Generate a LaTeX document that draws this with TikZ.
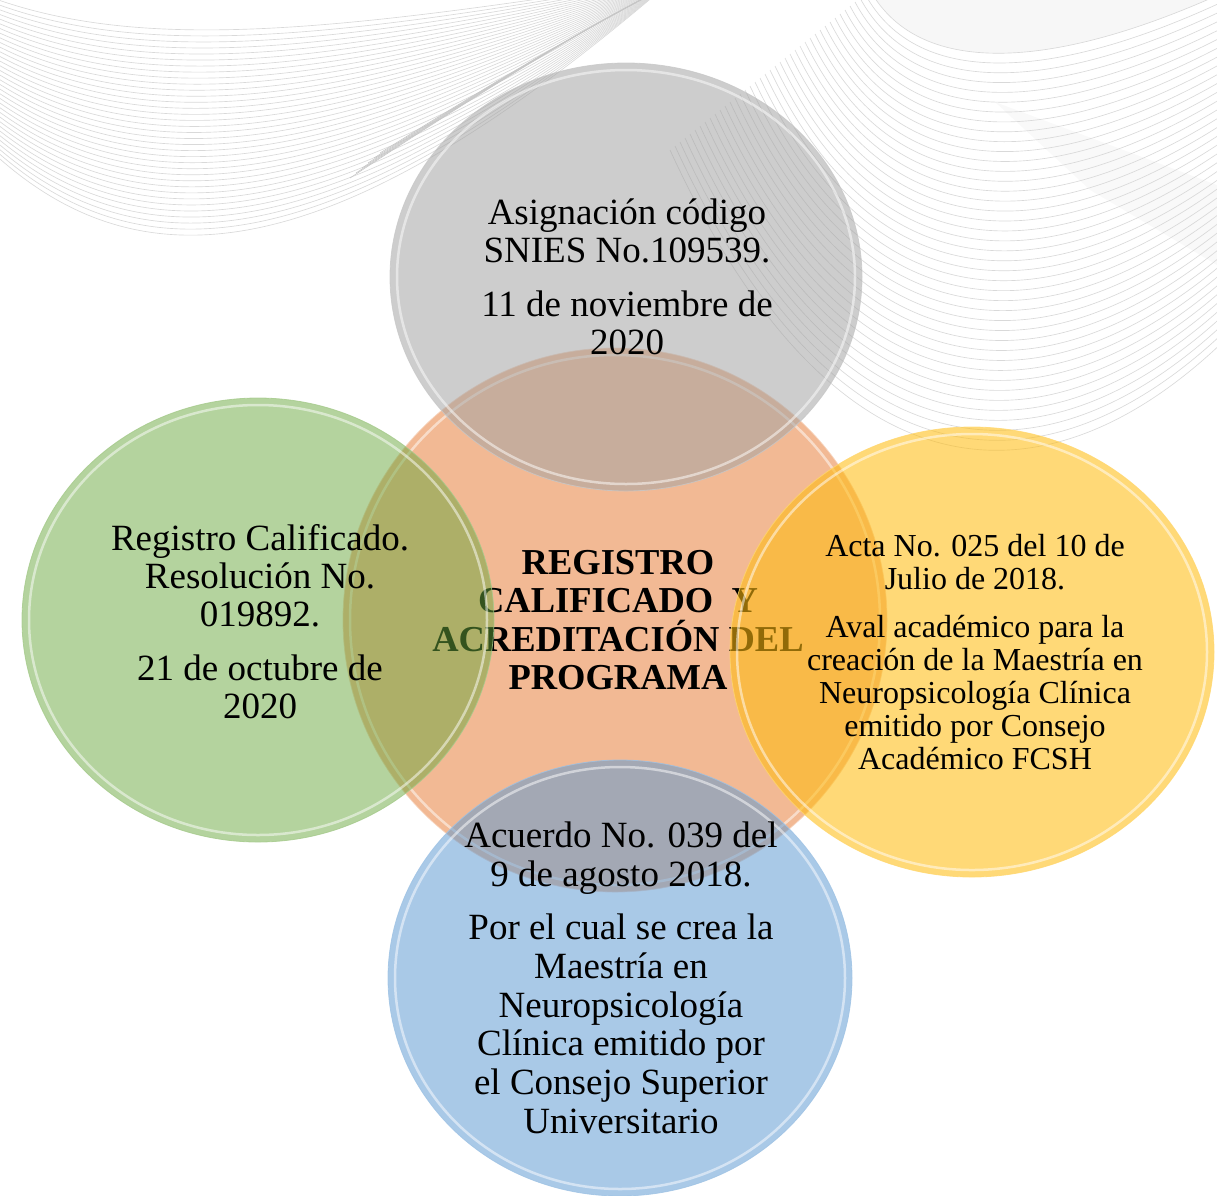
\documentclass[tikz,border=0pt]{standalone}
\usepackage{fontspec}
\setmainfont{Liberation Serif}
\usepackage{tikz}
\usetikzlibrary{shapes.geometric,positioning}

\definecolor{orangeC}{RGB}{242,185,148}
\definecolor{grayC}{RGB}{164,164,164}
\definecolor{greenC}{RGB}{105,167,61}
\definecolor{yellowC}{RGB}{255,188,15}
\definecolor{blueC}{RGB}{93,153,210}

\begin{document}
\begin{tikzpicture}[x=1pt,y=-1pt,
    wave/.style={draw=gray!30,line width=0.65pt},
    fold/.style={draw=gray!45,line width=0.6pt},
    bubble/.style={ellipse,inner sep=0pt,outer sep=0pt,fill=#1,draw=#1!60!white,draw opacity=0.8,line width=0.8pt},
    rim/.style={ellipse,inner sep=0pt,draw=white,draw opacity=0.5,line width=2.5pt},
    txt/.style={align=center,inner sep=0pt,text=black,font=\fontsize{37}{38}\selectfont},
    small/.style={txt,font=\fontsize{32}{33}\selectfont},
    title/.style={txt,font=\bfseries\fontsize{36.5}{38.5}\selectfont}]

    \useasboundingbox (0,0) rectangle (1217,1195);

    % background ribbons
    \begin{scope}
        \clip (0,0) rectangle (1217,1195);
        \fill[gray!6] (870,-10) .. controls (920,80) and (1060,70) .. (1240,-15) -- cycle;
        \fill[gray!5] (995,102) -- (1217,185) -- (1217,265) -- (1090,190) -- cycle;
        \foreach \i in {0,...,34}
            \draw[wave] (-10,{150-4.5*\i}) .. controls (140,{290-7*\i}) and (330,{270-7*\i}) .. (655,{-5-0.4*\i});
        \foreach \i in {0,...,5}
            \draw[fold] ({350+6*\i},{178-5*\i}) .. controls ({450+4*\i},{112-3*\i}) and (560,42) .. (650,-5);
        \foreach \j in {0,...,40}
            \draw[wave] ({870-5*\j},{-10+4*\j}) .. controls ({920-2*\j},{80+11*\j}) and (1060,{70+11*\j}) .. (1240,{-15+8.5*\j});
    \end{scope}

    % centre
    \node[bubble=orangeC,minimum width=544,minimum height=544] (programa) at (615,620) {};
    \node[rim,minimum width=530,minimum height=530] (programa-rim) at (programa) {};
    \node[title] (programa-txt) at (618,620) {REGISTRO\\CALIFICADO\ \ Y\\ACREDITACIÓN DEL\\PROGRAMA};

    % top
    \node[bubble=grayC,fill opacity=0.55,minimum width=472,minimum height=428] (snies) at (626,277) {};
    \node[rim,minimum width=458,minimum height=414] (snies-rim) at (snies) {};
    \node[txt] (snies-txt) at (627,277) {Asignación código\\SNIES No.109539.\\[16pt]11 de noviembre de\\2020};

    % left
    \node[bubble=greenC,fill opacity=0.5,minimum width=472,minimum height=444] (registro) at (258,620) {};
    \node[rim,minimum width=458,minimum height=430] (registro-rim) at (registro) {};
    \node[txt] (registro-txt) at (260,622) {Registro Calificado.\\Resolución No.\\019892.\\[16pt]21 de octubre de\\2020};

    % right
    \node[bubble=yellowC,fill opacity=0.57,minimum width=484,minimum height=450] (acta) at (972,652) {};
    \node[rim,minimum width=470,minimum height=436] (acta-rim) at (acta) {};
    \node[small] (acta-txt) at (975,652) {Acta No. 025 del 10 de\\Julio de 2018.\\[15pt]Aval académico para la\\creación de la Maestría en\\Neuropsicología Clínica\\emitido por Consejo\\Académico FCSH};

    % bottom
    \node[bubble=blueC,fill opacity=0.53,minimum width=464,minimum height=436] (acuerdo) at (620,978) {};
    \node[rim,minimum width=450,minimum height=422] (acuerdo-rim) at (acuerdo) {};
    \node[txt,font=\fontsize{37}{38.8}\selectfont] (acuerdo-txt) at (621,978) {Acuerdo No. 039 del\\9 de agosto 2018.\\[14pt]Por el cual se crea la\\Maestría en\\Neuropsicología\\Clínica emitido por\\el Consejo Superior\\Universitario};
\end{tikzpicture}
\end{document}
